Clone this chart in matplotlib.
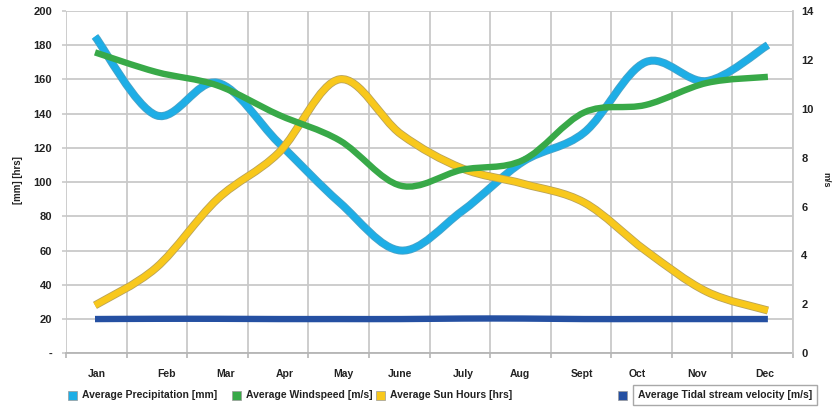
import numpy as np
import matplotlib
matplotlib.use("Agg")
import matplotlib.pyplot as plt
from matplotlib.path import Path
from matplotlib.patches import PathPatch, Rectangle
import matplotlib.patheffects as pe
from matplotlib import font_manager as fm

# ---- data -------------------------------------------------------------
months = ["Jan", "Feb", "Mar", "Apr", "May", "June", "July", "Aug", "Sept", "Oct", "Nov", "Dec"]
precipitation_mm = [185, 139, 158, 123, 88, 60, 83, 112, 129, 170, 159, 180]
sun_hours = [28, 50, 90, 117, 160, 128, 108, 99, 88, 60, 36, 25]
windspeed_ms = [12.3, 11.5, 10.95, 9.75, 8.7, 6.85, 7.5, 7.9, 9.85, 10.15, 11.05, 11.3]
tidal_ms = [1.40, 1.41, 1.41, 1.40, 1.40, 1.40, 1.42, 1.42, 1.40, 1.40, 1.40, 1.40]

left_ticks = list(range(0, 201, 20))
left_labels = ["-"] + [str(v) for v in left_ticks[1:]]
right_ticks = list(range(0, 15, 2))

series_names = ["Average Precipitation [mm]", "Average Windspeed [m/s]",
                "Average Sun Hours [hrs]", "Average Tidal stream velocity [m/s]"]

# ---- style ------------------------------------------------------------
C_BLUE = "#1EAEE6"
C_GREEN = "#38A948"
C_YELLOW = "#F8C81C"
C_NAVY = "#2550A2"
GRID = "#c9c9c9"
TXT = "#222222"

names = {f.name for f in fm.fontManager.ttflist}
FONT = "Liberation Sans Narrow" if "Liberation Sans Narrow" in names else "Liberation Sans"
plt.rcParams["font.family"] = [FONT, "DejaVu Sans"]
plt.rcParams["font.weight"] = "bold"

W, H = 833, 408
fig = plt.figure(figsize=(W / 100, H / 100), dpi=100)
x0, x1, ytop, ybot = 66, 793, 10.8, 353.3
ax = fig.add_axes([x0 / W, 1 - ybot / H, (x1 - x0) / W, (ybot - ytop) / H])

# category i sits at pixel 95 + 61.17 * i
step = 61.17
ax.set_xlim((x0 - 95) / step, (x1 - 95) / step)
ax.set_ylim(0, 200)

ax2 = ax.twinx()
ax2.set_ylim(0, 14)
ax2.patch.set_visible(False)

# grid: horizontal on value ticks, vertical at category boundaries
grid_x = [(x0 + k * (x1 - x0) / 12 - 95) / step for k in range(13)]
for v in left_ticks:
    ax.axhline(v, color=GRID, lw=1.3, zorder=0)
for gx in grid_x:
    ax.axvline(gx, color=GRID, lw=1.3, zorder=0)

for s in ["top", "left", "right"]:
    ax.spines[s].set_visible(False)
for s in ["top", "left", "bottom"]:
    ax2.spines[s].set_visible(False)
ax.spines["bottom"].set_color("#b5b5b5")
ax.spines["bottom"].set_linewidth(1.3)
ax2.spines["right"].set_color(GRID)
ax2.spines["right"].set_linewidth(1.3)

# category labels (offset slightly as laid out in the chart)
label_px = [97, 167, 226, 285, 343, 400, 463, 520, 582, 637, 697, 765]
ax.set_xticks([(p - 95) / step for p in label_px])
ax.set_xticklabels(months)
ax.set_xticks(grid_x, minor=True)
ax.tick_params(axis="x", which="major", length=0, pad=11, labelsize=7.5, labelcolor=TXT)
ax.tick_params(axis="x", which="minor", length=3.5, width=1.2, color="#b5b5b5", direction="out")

ax.set_yticks(left_ticks)
ax.set_yticklabels(left_labels)
ax.tick_params(axis="y", length=3, width=1.2, color=GRID, pad=7, labelsize=8, labelcolor=TXT)

ax2.set_yticks(right_ticks)
ax2.tick_params(axis="y", length=0, pad=6, labelsize=8, labelcolor=TXT)


def smooth_path(xs, ys):
    pts = np.column_stack([xs, ys]).astype(float)
    n = len(pts)
    verts = [pts[0]]
    codes = [Path.MOVETO]
    for i in range(n - 1):
        p0 = pts[max(i - 1, 0)]
        p1 = pts[i]
        p2 = pts[i + 1]
        p3 = pts[min(i + 2, n - 1)]
        verts += [p1 + (p2 - p0) / 6, p2 - (p3 - p1) / 6, p2]
        codes += [Path.CURVE4] * 3
    return Path(verts, codes)


def draw_series(axis, values, color, edge=None, z=3):
    xs = np.arange(len(values))
    patch = PathPatch(smooth_path(xs, values), fill=False, edgecolor=color,
                      lw=4.6, capstyle="butt", joinstyle="round", zorder=z)
    if edge is not None:
        patch.set_path_effects([pe.Stroke(linewidth=5.8, foreground=edge, capstyle="butt"),
                                pe.Normal()])
    axis.add_patch(patch)


draw_series(ax, precipitation_mm, C_BLUE, edge="#4aa3c8")
draw_series(ax, sun_hours, C_YELLOW, edge="#b9a35a", z=4)
draw_series(ax2, windspeed_ms, C_GREEN)
draw_series(ax2, tidal_ms, C_NAVY)

# axis titles
fig.text(18 / W, 1 - 180 / H, "[mm] [hrs]", rotation=90, ha="center", va="center",
         fontsize=7, color=TXT)
fig.text(826 / W, 1 - 180 / H, "m/s", rotation=270, ha="center", va="center",
         fontsize=6.5, color=TXT)

# legend row
legend_items = [
    (C_BLUE, 68, 82),
    (C_GREEN, 232, 246),
    (C_YELLOW, 376, 390),
    (C_NAVY, 618, 638),
]
ly = 395
for (col, sx, tx), name in zip(legend_items, series_names):
    fig.patches.append(Rectangle((sx / W, 1 - (ly + 4.5) / H), 8.5 / W, 9 / H,
                                 transform=fig.transFigure, facecolor=col,
                                 edgecolor="#9a9a9a", lw=0.5))
    kw = {}
    if col == C_NAVY:
        kw["bbox"] = dict(boxstyle="square,pad=0.45", facecolor="white",
                          edgecolor="#a8a8a8", lw=1.0)
    fig.text(tx / W, 1 - ly / H, name, ha="left", va="center", fontsize=7.5,
             color=TXT, **kw)

fig.savefig("out.png", dpi=100)
